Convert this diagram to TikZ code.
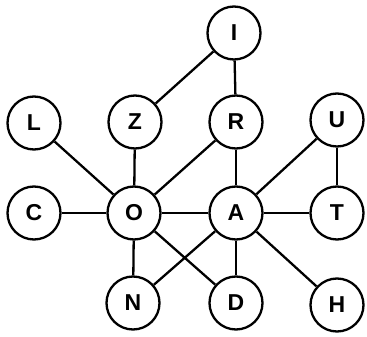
\documentclass[tikz,border=0pt]{standalone}
\usepackage{fontspec}
\setmainfont{Liberation Sans}
\begin{document}
\begin{tikzpicture}[x=1pt,y=-1pt,
  vtx/.style={circle,draw,line width=2.3pt,minimum size=53pt,inner sep=0pt,font=\fontsize{23}{23}\selectfont\bfseries},
  edge/.style={line width=2.3pt}]
\useasboundingbox (0,0) rectangle (367,337);
\node[vtx] (I) at (234,33) {I};
\node[vtx] (L) at (34,123) {L};
\node[vtx] (Z) at (135,122) {Z};
\node[vtx] (R) at (236,122) {R};
\node[vtx] (U) at (337,120) {U};
\node[vtx] (C) at (34,213) {C};
\node[vtx] (O) at (134,213) {O};
\node[vtx] (A) at (236,213) {A};
\node[vtx] (T) at (337,213) {T};
\node[vtx] (N) at (133,303) {N};
\node[vtx] (D) at (236,303) {D};
\node[vtx] (H) at (337,305) {H};
\draw[edge] (I) -- (Z);
\draw[edge] (I) -- (R);
\draw[edge] (L) -- (O);
\draw[edge] (Z) -- (O);
\draw[edge] (R) -- (O);
\draw[edge] (R) -- (A);
\draw[edge] (U) -- (A);
\draw[edge] (U) -- (T);
\draw[edge] (C) -- (O);
\draw[edge] (O) -- (A);
\draw[edge] (A) -- (T);
\draw[edge] (O) -- (N);
\draw[edge] (O) -- (D);
\draw[edge] (A) -- (N);
\draw[edge] (A) -- (D);
\draw[edge] (A) -- (H);
\end{tikzpicture}
\end{document}
